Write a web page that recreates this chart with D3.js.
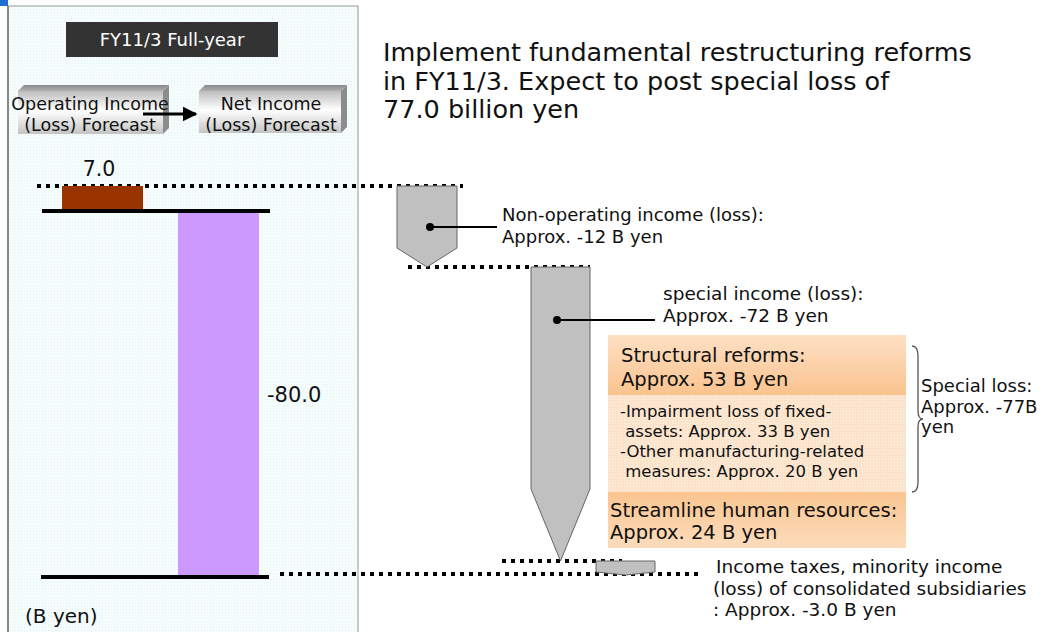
<!DOCTYPE html>
<html>
<head>
<meta charset="utf-8">
<script src="https://cdn.jsdelivr.net/npm/d3@7"></script>
<style>
  body { margin: 0; background: #fff; }
  svg { display: block; font-family: "DejaVu Sans", Verdana, sans-serif; }
</style>
</head>
<body>
<div id="chart"></div>
<script>
// Waterfall: operating income -> net income forecast (B yen)

var categories = ["Operating income", "Non-operating", "Special", "Income taxes", "Net income"];
var values = [7.0, -12, -72, -3, -80];
var valueLabels = ["7.0", "", "", "", "-80.0"];

var titleLines = ["Implement fundamental restructuring reforms",
                  "in FY11/3. Expect to post special loss of",
                  "77.0 billion yen"];
var nonOpNote = ["Non-operating income (loss):", "Approx. -12 B yen"];
var specialNote = ["special income (loss):", "Approx. -72 B yen"];
var taxNote = ["Income taxes, minority income", "(loss) of consolidated subsidiaries", ": Approx. -3.0 B yen"];
var structHead = ["Structural reforms:", "Approx. 53 B yen"];
var structItems = ["-Impairment loss of fixed-", " assets: Approx. 33 B yen",
                   "-Other manufacturing-related", " measures: Approx. 20 B yen"];
var humanHead = ["Streamline human resources:", "Approx. 24 B yen"];
var specialLoss = ["Special loss:", "Approx. -77B", "yen"];

var W = 1045, H = 632;
var svg = d3.select("#chart").append("svg")
    .attr("width", W)
    .attr("height", H);

var defs = svg.append("defs");

// light panel dot pattern
var pat = defs.append("pattern").attr("id", "panelDots")
    .attr("width", 3).attr("height", 3).attr("patternUnits", "userSpaceOnUse");
pat.append("rect").attr("width", 3).attr("height", 3).attr("fill", "#f4fcfc");
pat.append("rect").attr("width", 1).attr("height", 1).attr("fill", "#e4f4f4");

var pat2 = defs.append("pattern").attr("id", "peachDots")
    .attr("width", 3).attr("height", 3).attr("patternUnits", "userSpaceOnUse");
pat2.append("rect").attr("width", 3).attr("height", 3).attr("fill", "#fce4cc");
pat2.append("rect").attr("width", 1).attr("height", 1).attr("fill", "#fff2e6");

function vgrad(id, stops) {
  var g = defs.append("linearGradient").attr("id", id)
      .attr("x1", 0).attr("y1", 0).attr("x2", 0).attr("y2", 1);
  stops.forEach(function(s) {
    g.append("stop").attr("offset", s[0]).attr("stop-color", s[1]);
  });
}
vgrad("frontGrad", [[0, "#bdbdbd"], [0.45, "#ffffff"], [1, "#c4c4c4"]]);
vgrad("topGrad", [[0, "#8a8a8a"], [1, "#b0b0b0"]]);
vgrad("structGrad", [[0, "#fde0c4"], [1, "#fac38e"]]);
vgrad("humanGrad", [[0, "#fac590"], [1, "#fcdcbc"]]);

// left panel
svg.append("rect")
    .attr("x", 8).attr("y", 6).attr("width", 350).attr("height", 640)
    .attr("fill", "url(#panelDots)")
    .attr("stroke", "#999").attr("stroke-width", 1);
svg.append("line").attr("x1", 8).attr("x2", 8).attr("y1", 6).attr("y2", H)
    .attr("stroke", "#888").attr("stroke-width", 2);
svg.append("rect").attr("x", 0).attr("y", 0).attr("width", 8).attr("height", 6)
    .attr("fill", "#1e6fd0");

// header
svg.append("rect").attr("x", 66).attr("y", 22).attr("width", 212).attr("height", 35)
    .attr("fill", "#333");
svg.append("text").attr("x", 172).attr("y", 46).attr("text-anchor", "middle")
    .attr("fill", "#fff").attr("font-size", 18).text("FY11/3 Full-year");

// 3D boxes
function box3d(x, y, w, h, lines, cx) {
  var d = 6;
  svg.append("polygon")
      .attr("points", [[x, y], [x + d, y - d], [x + w + d, y - d], [x + w, y]].join(" "))
      .attr("fill", "url(#topGrad)");
  svg.append("polygon")
      .attr("points", [[x + w, y], [x + w + d, y - d], [x + w + d, y + h - d], [x + w, y + h]].join(" "))
      .attr("fill", "#8c8c8c");
  svg.append("rect").attr("x", x).attr("y", y).attr("width", w).attr("height", h)
      .attr("fill", "url(#frontGrad)");
  lines.forEach(function(t, i) {
    svg.append("text").attr("x", cx).attr("y", 110 + i * 21)
        .attr("text-anchor", "middle").attr("font-size", 17.5).attr("fill", "#111").text(t);
  });
}
box3d(18, 91, 145, 43, ["Operating Income", "(Loss) Forecast"], 90);
box3d(199, 91, 142, 42, ["Net Income", "(Loss) Forecast"], 271);

defs.append("marker").attr("id", "arrowHead")
    .attr("viewBox", "0 0 10 10").attr("refX", 9).attr("refY", 5)
    .attr("markerWidth", 5).attr("markerHeight", 5).attr("orient", "auto")
  .append("path").attr("d", "M0,0L10,5L0,10Z").attr("fill", "#000");
svg.append("line").attr("x1", 143).attr("x2", 196).attr("y1", 114).attr("y2", 114)
    .attr("stroke", "#000").attr("stroke-width", 3).attr("marker-end", "url(#arrowHead)");

// title
titleLines.forEach(function(t, i) {
  svg.append("text").attr("x", 383).attr("y", 61 + i * 28.5)
      .attr("font-size", 25.5).attr("fill", "#111").text(t);
});

// scales: the slide is drawn out of proportion, so the value axis is piecewise
var y = d3.scaleLinear()
    .domain([7, 0, -5, -77, -80])
    .range([186, 211, 267, 561, 575]);
var x = d3.scaleOrdinal()
    .domain(categories)
    .range([62, 397, 531, 596, 178]);
var barW = d3.scaleOrdinal()
    .domain(categories)
    .range([81, 60, 59, 59, 81]);
var tip = d3.scaleOrdinal()
    .domain(categories)
    .range([0, 19, 72, 3, 0]);

// running totals
var bars = [];
var run = 0;
values.forEach(function(v, i) {
  var c = categories[i];
  if (i === 0 || i === values.length - 1) {
    bars.push({ cat: c, v: v, from: 0, to: v, total: true });
    run = v;
  } else {
    bars.push({ cat: c, v: v, from: run, to: run + v, total: false });
    run += v;
  }
});

var barColor = d3.scaleOrdinal().domain(categories)
    .range(["#993300", "#c0c0c0", "#c0c0c0", "#c0c0c0", "#cc99ff"]);

// connector dotted lines
var dots = [
  { v: bars[0].to, x1: 37, x2: 463 },
  { v: bars[1].to, x1: 408, x2: 590 },
  { v: bars[2].to, x1: 502, x2: 622 },
  { v: bars[3].to, x1: 280, x2: 700 }
];
dots.forEach(function(d, i) {
  var yy = y(d.v) + (i === 3 ? -1 : 0);
  svg.append("line").attr("x1", d.x1).attr("x2", d.x2).attr("y1", yy).attr("y2", yy)
      .attr("stroke", "#000").attr("stroke-width", 4).attr("stroke-dasharray", "4,5");
});

// bars
bars.forEach(function(b) {
  var x0 = x(b.cat), w = barW(b.cat);
  if (b.total) {
    svg.append("rect")
        .attr("x", x0).attr("y", y(Math.max(b.from, b.to)))
        .attr("width", w).attr("height", Math.abs(y(b.to) - y(b.from)))
        .attr("fill", barColor(b.cat));
  } else {
    var t = y(b.from), bt = y(b.to), s = bt - tip(b.cat);
    svg.append("polygon")
        .attr("points", [[x0, t], [x0 + w, t], [x0 + w, s], [x0 + w / 2, bt], [x0, s]].join(" "))
        .attr("fill", barColor(b.cat)).attr("stroke", "#666").attr("stroke-width", 1);
  }
});

// zero and result base lines
svg.append("line").attr("x1", 42).attr("x2", 270).attr("y1", y(0)).attr("y2", y(0))
    .attr("stroke", "#000").attr("stroke-width", 4);
svg.append("line").attr("x1", 41).attr("x2", 269).attr("y1", y(values[4]) + 2).attr("y2", y(values[4]) + 2)
    .attr("stroke", "#000").attr("stroke-width", 4);

// value labels
svg.append("text").attr("x", 99).attr("y", y(bars[0].to) - 10)
    .attr("text-anchor", "middle").attr("font-size", 20.5).attr("fill", "#111").text(valueLabels[0]);
svg.append("text").attr("x", 267).attr("y", (y(0) + y(values[4])) / 2 + 9)
    .attr("font-size", 21).attr("fill", "#111").text(valueLabels[4]);
svg.append("text").attr("x", 25).attr("y", 623).attr("font-size", 20).attr("fill", "#111").text("(B yen)");

// leader lines
function leader(cx, cy, x2, lines, tx, ty, fs) {
  svg.append("line").attr("x1", cx).attr("x2", x2).attr("y1", cy).attr("y2", cy)
      .attr("stroke", "#000").attr("stroke-width", 2);
  svg.append("circle").attr("cx", cx).attr("cy", cy).attr("r", 4).attr("fill", "#000");
  lines.forEach(function(t, i) {
    svg.append("text").attr("x", tx).attr("y", ty + i * 21.5)
        .attr("font-size", fs).attr("fill", "#111").text(t);
  });
}
leader(430, 227, 497, nonOpNote, 502, 221, 18);
leader(557, 320, 655, specialNote, 663, 300, 18.5);

// tax note
taxNote.forEach(function(t, i) {
  svg.append("text").attr("x", i === 0 ? 716 : 713).attr("y", 573 + i * 21.5)
      .attr("font-size", 18.5).attr("fill", "#111").text(t);
});

// orange boxes
svg.append("rect").attr("x", 608).attr("y", 335).attr("width", 298).attr("height", 60)
    .attr("fill", "url(#structGrad)");
svg.append("rect").attr("x", 608).attr("y", 395).attr("width", 298).attr("height", 97)
    .attr("fill", "url(#peachDots)");
svg.append("rect").attr("x", 608).attr("y", 492).attr("width", 298).attr("height", 56)
    .attr("fill", "url(#humanGrad)");

structHead.forEach(function(t, i) {
  svg.append("text").attr("x", 621).attr("y", 362 + i * 23.5)
      .attr("font-size", 19.5).attr("fill", "#111").text(t);
});
structItems.forEach(function(t, i) {
  svg.append("text").attr("x", 620).attr("y", 417 + i * 20).attr("xml:space", "preserve")
      .style("white-space", "pre")
      .attr("font-size", 16.5).attr("fill", "#111").text(t);
});
humanHead.forEach(function(t, i) {
  svg.append("text").attr("x", 610).attr("y", 517 + i * 22)
      .attr("font-size", 19.5).attr("fill", "#111").text(t);
});

// brace
var bx = 912, bTop = 346, bBot = 492, bMid = 419;
svg.append("path")
    .attr("d", "M" + bx + "," + bTop +
      " Q" + (bx + 6) + "," + bTop + " " + (bx + 6) + "," + (bTop + 10) +
      " L" + (bx + 6) + "," + (bMid - 8) +
      " Q" + (bx + 6) + "," + bMid + " " + (bx + 11) + "," + bMid +
      " Q" + (bx + 6) + "," + bMid + " " + (bx + 6) + "," + (bMid + 8) +
      " L" + (bx + 6) + "," + (bBot - 10) +
      " Q" + (bx + 6) + "," + bBot + " " + bx + "," + bBot)
    .attr("fill", "none").attr("stroke", "#555").attr("stroke-width", 1.3);
specialLoss.forEach(function(t, i) {
  svg.append("text").attr("x", 921).attr("y", 392 + i * 20.5)
      .attr("font-size", 18).attr("fill", "#111").text(t);
});
</script>
</body>
</html>
